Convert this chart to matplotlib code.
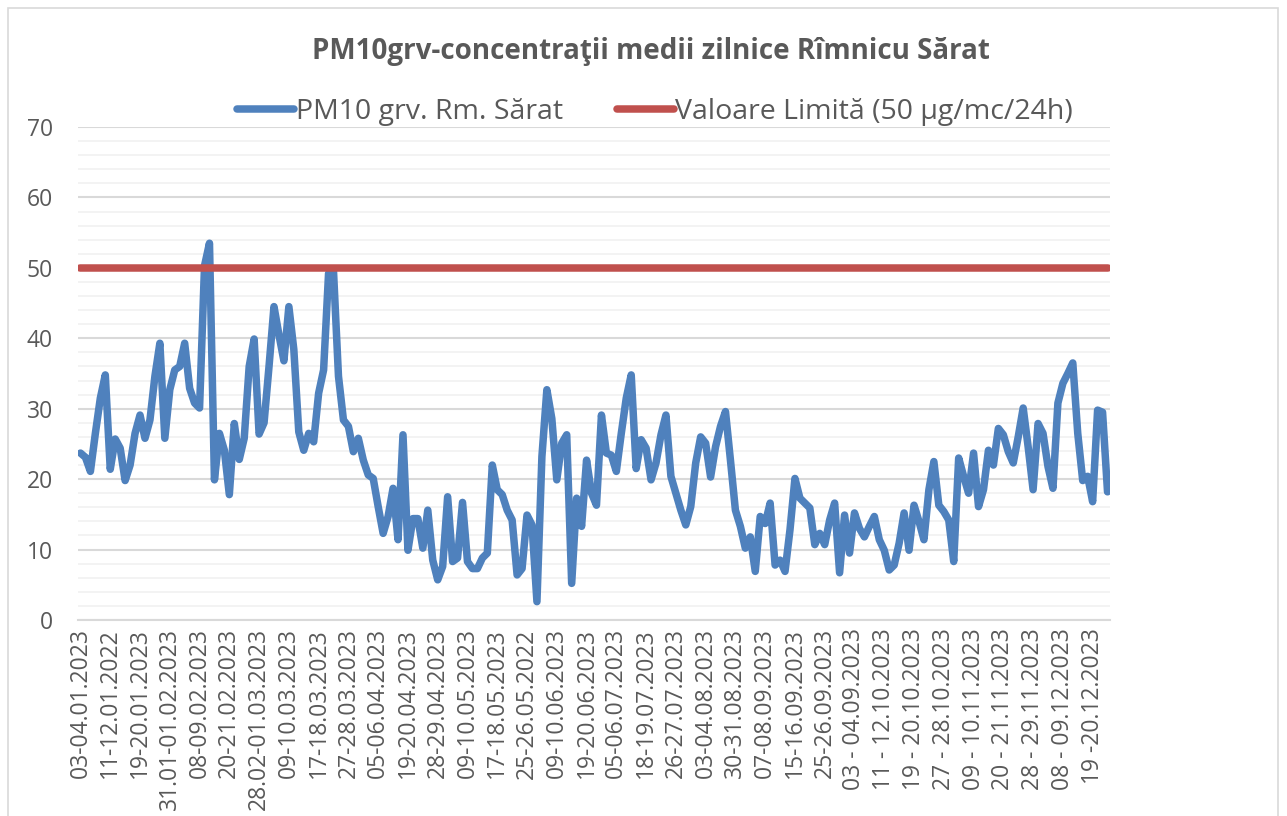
import matplotlib
matplotlib.use("agg")
import matplotlib.pyplot as plt
from matplotlib.patches import Rectangle

# PM10 daily means (ug/m3)
pm10 = [23.7, 23.1, 21.1, 26.5, 31.5, 34.8, 21.4, 25.7, 24.4, 19.8,
        22.0, 26.5, 29.1, 25.8, 28.4, 34.6, 39.3, 25.8, 32.7, 35.5,
        36.0, 39.3, 32.9, 30.8, 30.1, 50.3, 53.5, 19.9, 26.5, 24.1,
        17.8, 27.9, 22.8, 25.8, 36.0, 39.9, 26.4, 28.0, 36.0, 44.5,
        40.5, 36.8, 44.5, 38.4, 26.7, 24.1, 26.5, 25.3, 32.2, 35.5,
        49.2, 49.5, 34.6, 28.4, 27.5, 23.9, 25.8, 22.7, 20.6, 20.1,
        16.1, 12.3, 14.7, 18.7, 11.4, 26.3, 9.9, 14.4, 14.4, 10.2,
        15.6, 8.5, 5.7, 7.6, 17.5, 8.3, 8.8, 16.7, 8.3, 7.3,
        7.3, 8.8, 9.5, 22.0, 18.5, 17.8, 15.6, 14.2, 6.4, 7.3,
        14.9, 13.5, 2.6, 23.2, 32.7, 28.6, 19.9, 25.1, 26.3, 5.2,
        17.3, 13.3, 22.7, 18.0, 16.3, 29.1, 23.7, 23.4, 21.1, 26.5,
        31.5, 34.8, 21.5, 25.6, 24.4, 19.9, 22.3, 26.3, 29.1, 20.4,
        18.0, 15.6, 13.5, 16.1, 22.3, 26.0, 25.1, 20.3, 24.6, 27.5,
        29.6, 22.7, 15.6, 13.3, 10.2, 11.8, 6.9, 14.7, 13.7, 16.6,
        7.8, 8.5, 6.9, 12.8, 20.1, 17.3, 16.6, 15.9, 10.7, 12.3,
        10.7, 14.2, 16.6, 6.7, 14.9, 9.5, 15.2, 13.0, 11.8, 13.3,
        14.7, 11.4, 9.9, 7.1, 7.8, 10.9, 15.2, 9.9, 16.3, 14.0,
        11.4, 18.5, 22.5, 16.3, 15.4, 14.2, 8.3, 23.0, 20.4, 18.0,
        23.7, 16.1, 18.5, 24.1, 22.0, 27.2, 26.3, 23.9, 22.3, 26.0,
        30.1, 24.6, 18.5, 27.9, 26.5, 21.8, 18.7, 30.8, 33.6, 35.0,
        36.5, 26.5, 19.8, 20.4, 16.8, 29.8, 29.5, 18.2]

limit_value = 50

# labels shown on the category axis (one every 6 samples)
tick_labels = ["03-04.01.2023", "11-12.01.2022", "19-20.01.2023", "31.01-01.02.2023",
               "08-09.02.2023", "20-21.02.2023", "28.02-01.03.2023", "09-10.03.2023",
               "17-18.03.2023", "27-28.03.2023", "05-06.04.2023", "19-20.04.2023",
               "28-29.04.2023", "09-10.05.2023", "17-18.05.2023", "25-26.05.2022",
               "09-10.06.2023", "19-20.06.2023", "05-06.07.2023", "18-19.07.2023",
               "26-27.07.2023", "03-04.08.2023", "30-31.08.2023", "07-08.09.2023",
               "15-16.09.2023", "25-26.09.2023", "03 - 04.09.2023", "11 - 12.10.2023",
               "19 - 20.10.2023", "27 - 28.10.2023", "09 - 10.11.2023", "20 - 21.11.2023",
               "28 - 29.11.2023", "08 - 09.12.2023", "19 -20.12.2023"]
label_step = 6

grey = "#595959"
plt.rcParams['font.family'] = ['Open Sans', 'DejaVu Sans']

fig = plt.figure(figsize=(12.87, 8.16), dpi=100)
ax = fig.add_axes([78/1287, 1 - 620/816, 1032/1287, 493/816])

x = list(range(len(pm10)))
ax.plot(x, pm10, color="#4F81BD", lw=5.4, solid_joinstyle="round",
        solid_capstyle="round", label="PM10 grv. Rm. Sărat", zorder=3)
ax.plot(x, [limit_value] * len(pm10), color="#C0504D", lw=5.4,
        solid_capstyle="round", label="Valoare Limită (50 µg/mc/24h)", zorder=3)

ax.set_xlim(-0.5, len(pm10) - 0.5)
ax.set_ylim(0, 70)
ax.set_yticks(range(0, 71, 10))
ax.set_yticks(range(0, 71, 2), minor=True)
ax.grid(which="minor", axis="y", color="#F2F2F2", lw=1.3)
ax.grid(which="major", axis="y", color="#D9D9D9", lw=1.5)
ax.set_axisbelow(True)

ax.set_xticks(x[::label_step])
ax.set_xticklabels(tick_labels, rotation=90, ha="center", va="top")
ax.tick_params(axis="x", length=0, pad=6, labelsize=16.5, colors=grey)
ax.tick_params(axis="y", which="both", length=0, pad=18, labelsize=16.5, colors=grey)

for s in ["top", "right", "left"]:
    ax.spines[s].set_visible(False)
ax.spines["bottom"].set_color("#D9D9D9")
ax.spines["bottom"].set_linewidth(1.5)

fig.text(651/1287, 1 - 51/816, "PM10grv-concentraţii medii zilnice Rîmnicu Sărat",
         ha="center", va="center", fontsize=20, fontweight="bold", color=grey)

leg = fig.legend(loc="center", bbox_to_anchor=(655/1287, 1 - 112/816), ncol=2,
                 frameon=False, fontsize=20.5, handlelength=2.0, handletextpad=0.05,
                 columnspacing=1.9)
for t in leg.get_texts():
    t.set_color(grey)

# chart border
fig.patches.append(Rectangle((8/1287, -0.01), 1270/1287, 1 - 8/816 + 0.01,
                             transform=fig.transFigure, fill=False,
                             edgecolor="#D9D9D9", lw=1.2))

fig.savefig("out.png", dpi=100)
